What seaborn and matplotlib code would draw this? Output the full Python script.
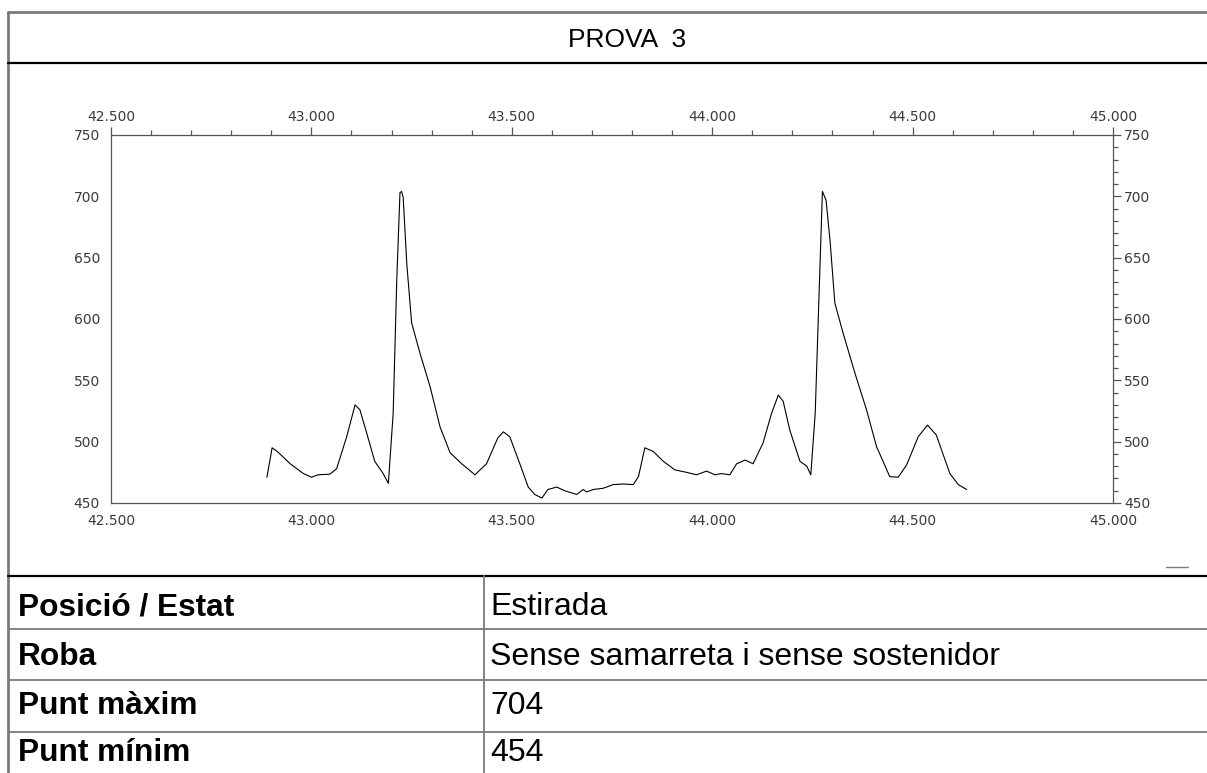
import numpy as np
import matplotlib.pyplot as plt
import seaborn as sns
from matplotlib.ticker import MultipleLocator, FuncFormatter
from matplotlib.lines import Line2D

# Dades de la corba (posició, valor)
posicio = [42.889, 42.902, 42.915, 42.947, 42.980, 43.000, 43.017, 43.046, 43.063, 43.088,
           43.109, 43.121, 43.138, 43.158, 43.179, 43.192, 43.204, 43.213, 43.221, 43.225,
           43.229, 43.238, 43.250, 43.271, 43.296, 43.321, 43.346, 43.375, 43.408, 43.437,
           43.465, 43.479, 43.495, 43.520, 43.541, 43.557, 43.575, 43.590, 43.612, 43.632,
           43.662, 43.678, 43.687, 43.703, 43.728, 43.753, 43.778, 43.803, 43.816, 43.832,
           43.853, 43.878, 43.907, 43.936, 43.961, 43.986, 44.007, 44.023, 44.044, 44.061,
           44.082, 44.102, 44.127, 44.148, 44.165, 44.177, 44.194, 44.219, 44.236, 44.246,
           44.257, 44.267, 44.275, 44.284, 44.294, 44.306, 44.327, 44.356, 44.385, 44.410,
           44.443, 44.464, 44.485, 44.514, 44.537, 44.559, 44.593, 44.614, 44.635]
valor = [471, 495, 492, 482, 474, 471, 473, 473.5, 478, 504,
         530, 526, 507, 484, 474, 466, 523, 632, 703, 704,
         699, 645, 597, 572, 545, 512, 491, 482, 473, 482,
         503, 508, 504, 482, 463, 457, 454, 461, 463, 460,
         457, 461, 459, 461, 462, 465, 465.5, 465, 471.5, 495,
         492, 484, 477, 475, 473, 476, 473, 474, 473, 482,
         485, 482, 499, 523, 538, 533, 509, 484, 480, 473,
         523, 624, 704, 697, 664, 613, 588, 556, 526, 496,
         471.5, 471, 481, 504, 513.5, 505.5, 474, 465, 461]

# Taula de sota
etiquetes = ['Posició / Estat', 'Roba', 'Punt màxim', 'Punt mínim']
valors_taula = ['Estirada', 'Sense samarreta i sense sostenidor', '704', '454']
titol = 'PROVA  3'

sns.set_style('white')
plt.rcParams['font.family'] = ['Liberation Sans', 'DejaVu Sans']
plt.rcParams['text.color'] = 'black'

W, H = 1207, 773
fig = plt.figure(figsize=(W / 100, H / 100), dpi=100)


def fx(px):
    return px / W


def fy(py):
    return 1 - py / H


# Gràfic
ax = fig.add_axes([fx(111), fy(503), (1113 - 111) / W, (503 - 135) / H])
sns.lineplot(x=posicio, y=valor, ax=ax, color='black', linewidth=0.8,
             sort=False, estimator=None)
ax.set_xlim(42.5, 45.0)
ax.set_ylim(450, 750)
ax.xaxis.set_major_locator(MultipleLocator(0.5))
ax.xaxis.set_minor_locator(MultipleLocator(0.1))
ax.yaxis.set_major_locator(MultipleLocator(50))
ax.yaxis.set_minor_locator(MultipleLocator(10))
ax.xaxis.set_major_formatter(FuncFormatter(lambda v, p: f'{v:.3f}'))
ax.yaxis.set_major_formatter(FuncFormatter(lambda v, p: f'{v:.0f}'))

ax.tick_params(which='both', direction='out', top=True, right=True,
               labeltop=True, labelright=True, colors='#555555',
               labelcolor='#3a3a3a', width=0.9)
ax.tick_params(which='major', length=6, labelsize=10, pad=2)
ax.tick_params(which='minor', length=3.5)
for lbl in ax.get_xticklabels() + ax.get_yticklabels():
    lbl.set_family('DejaVu Sans')
for sp in ax.spines.values():
    sp.set_color('#555555')
    sp.set_linewidth(0.9)
    sp.set_visible(True)
ax.set_xlabel('')
ax.set_ylabel('')

# Vores i línies del document
gris = '#7a7a7a'
linies = [
    ((8, W), (12, 12), gris, 2.0),
    ((8, 8), (12, H), gris, 2.0),
    ((8, W), (63, 63), 'black', 1.6),
    ((8, W), (576, 576), 'black', 1.6),
    ((8, W), (629, 629), gris, 1.3),
    ((8, W), (680, 680), gris, 1.3),
    ((8, W), (732, 732), gris, 1.3),
    ((484, 484), (576, H), gris, 1.3),
    ((1166, 1188), (567, 567), gris, 1.0),
]
for xs, ys, c, lw in linies:
    fig.add_artist(Line2D([fx(xs[0]), fx(xs[1])], [fy(ys[0]), fy(ys[1])],
                          color=c, linewidth=lw, transform=fig.transFigure))

fig.text(fx(627), fy(40), titol, ha='center', va='center', fontsize=19)

files_y = [607, 657, 706, 753]
for et, val, yy in zip(etiquetes, valors_taula, files_y):
    fig.text(fx(18), fy(yy), et, ha='left', va='center', fontsize=22.8,
             fontweight='bold')
    fig.text(fx(490), fy(yy), val, ha='left', va='center', fontsize=23)

plt.savefig('out.png', dpi=100)
